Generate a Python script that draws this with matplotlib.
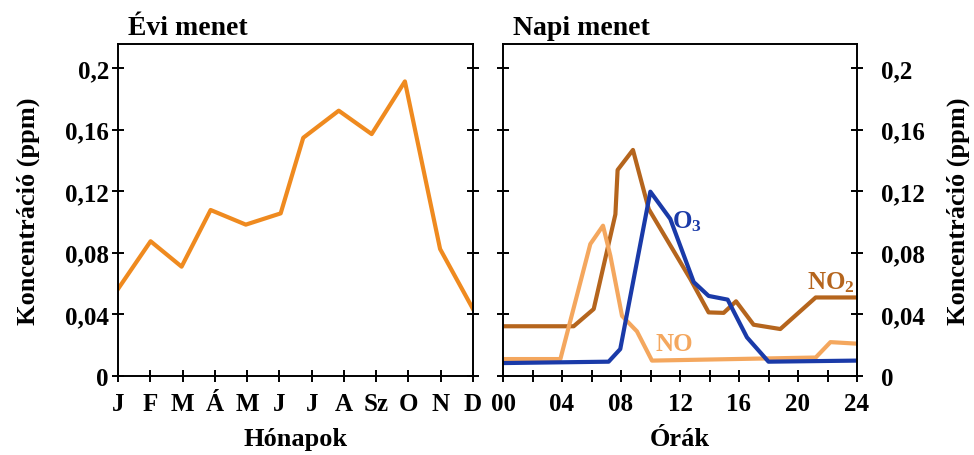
import matplotlib
matplotlib.use("Agg")
import matplotlib.pyplot as plt

plt.rcParams['font.family'] = ['Liberation Serif', 'DejaVu Serif']
plt.rcParams['font.weight'] = 'bold'
plt.rcParams['axes.labelweight'] = 'bold'
plt.rcParams['mathtext.fontset'] = 'custom'
plt.rcParams['mathtext.rm'] = 'Liberation Serif:bold'
plt.rcParams['mathtext.bf'] = 'Liberation Serif:bold'
plt.rcParams['mathtext.default'] = 'rm'

# Annual course (month positions 0=Jan ... 11=Dec)
month_labels = ["J", "F", "M", "Á", "M", "J", "J", "A", "Sz", "O", "N", "D"]
month_pos = [0, 1.01, 1.97, 2.87, 3.96, 5.04, 5.74, 6.84, 7.86, 8.89, 9.98, 11]
annual_conc = [0.0565, 0.0875, 0.071, 0.1078, 0.0983, 0.1056, 0.1547, 0.1723, 0.1571, 0.1913, 0.0825, 0.0435]

# Daily course
no2_h = [0, 4.79, 6.15, 7.62, 7.77, 8.81, 9.88, 12.7, 13.94, 14.96, 15.8, 16.99, 18.8, 21.2, 24]
no2_v = [0.0323, 0.0323, 0.0435, 0.105, 0.1338, 0.1468, 0.1084, 0.063, 0.0413, 0.041, 0.0485, 0.0333, 0.0305, 0.051, 0.051]
no_h = [0, 3.89, 5.92, 6.78, 7.28, 8.07, 9.08, 10.1, 21.2, 22.2, 24]
no_v = [0.011, 0.011, 0.0857, 0.0976, 0.078, 0.039, 0.029, 0.010, 0.012, 0.022, 0.021]
o3_h = [0, 7.16, 7.95, 9.99, 11.34, 12.93, 13.94, 15.23, 16.54, 18.0, 24]
o3_v = [0.0084, 0.0093, 0.0175, 0.1197, 0.102, 0.061, 0.052, 0.0496, 0.0251, 0.0093, 0.010]

yticks = [0, 0.04, 0.08, 0.12, 0.16, 0.2]
ytick_labels = ["0", "0,04", "0,08", "0,12", "0,16", "0,2"]
hour_ticks = list(range(0, 25, 2))
hour_labels = ["00", "", "04", "", "08", "", "12", "", "16", "", "20", "", "24"]

c_annual = "#ef8a1f"
c_no2 = "#b5651d"
c_no = "#f4a75e"
c_o3 = "#1a3aa8"

W, H = 974, 456
fig = plt.figure(figsize=(W / 100, H / 100), dpi=100)
axL = fig.add_axes([118 / W, 79 / H, 355 / W, 332 / H])
axR = fig.add_axes([503 / W, 79 / H, 354 / W, 332 / H])

fs = 18
fl = 19
ft = 20
for ax in (axL, axR):
    for s in ax.spines.values():
        s.set_linewidth(1.4)
    ax.set_ylim(0, 0.2156)
    ax.set_yticks(yticks)
    ax.tick_params(axis='both', direction='inout', length=9, width=1.4, labelsize=fs)
    ax.tick_params(axis='y', left=True, right=True)
    ax.tick_params(axis='x', pad=7)

axL.plot(month_pos, annual_conc, color=c_annual, lw=3.0)
axL.set_xlim(0, 11)
axL.set_xticks(range(12))
axL.set_xticklabels(month_labels, fontsize=fs)
axL.set_yticklabels(ytick_labels, fontsize=fs)
axL.tick_params(axis='y', pad=2)

axR.plot(no2_h, no2_v, color=c_no2, lw=3.0)
axR.plot(no_h, no_v, color=c_no, lw=3.0)
axR.plot(o3_h, o3_v, color=c_o3, lw=3.0)
axR.set_xlim(0, 24)
axR.set_xticks(hour_ticks)
axR.set_xticklabels(hour_labels, fontsize=fs)
axR.yaxis.tick_right()
axR.tick_params(axis='y', left=True, right=True, labelleft=False, labelright=True, pad=13)
axR.set_yticklabels(ytick_labels, fontsize=fs)

# axis labels and titles
fig.text(296 / W, 1 - 440 / H, "Hónapok", fontsize=fl, ha='center', va='center')
fig.text(680 / W, 1 - 440 / H, "Órák", fontsize=fl, ha='center', va='center')
fig.text(28 / W, 1 - 211 / H, "Koncentráció (ppm)", fontsize=fl, ha='center', va='center', rotation=90)
fig.text(958 / W, 1 - 211 / H, "Koncentráció (ppm)", fontsize=fl, ha='center', va='center', rotation=90)
fig.text(128 / W, 1 - 35 / H, "Évi menet", fontsize=ft, ha='left', va='baseline')
fig.text(513 / W, 1 - 35 / H, "Napi menet", fontsize=ft, ha='left', va='baseline')

axR.text(12.5, 0.1006, "O$_3$", color=c_o3, fontsize=fs, ha='center', va='center')
axR.text(22.2, 0.061, "NO$_2$", color=c_no2, fontsize=fs, ha='center', va='center')
axR.text(11.6, 0.0208, "NO", color=c_no, fontsize=fs, ha='center', va='center')

fig.savefig("out.png", dpi=100)
